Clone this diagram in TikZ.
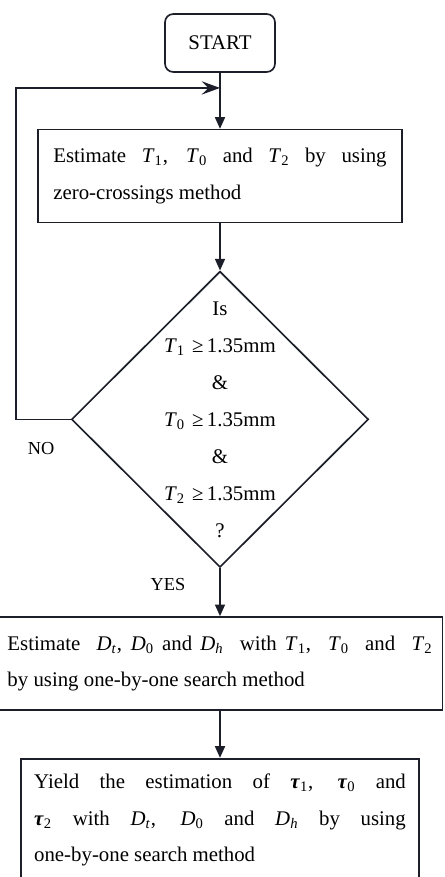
\documentclass[tikz,border=0pt]{standalone}
\usepackage{fontspec}
\setmainfont{Liberation Serif}
\usetikzlibrary{arrows.meta,positioning,calc,shapes.geometric}
\definecolor{ink}{RGB}{28,30,42}
\tikzset{
  term/.style={draw=ink,line width=1pt,rounded corners=5pt,minimum width=66pt,
    minimum height=34.8pt,font=\fontsize{12.5}{22}\selectfont},
  proc/.style={draw=ink,line width=1pt,inner ysep=0pt,align=justify,
    minimum height=55.8pt,font=\fontsize{12.5}{22}\selectfont},
  decide/.style={draw=ink,line width=1pt,diamond,inner sep=0pt,
    minimum width=178.2pt,minimum height=177.6pt},
  dtext/.style={text width=110pt,align=center,inner sep=0pt,
    font=\fontsize{12.5}{22.2}\selectfont},
  lbl/.style={inner sep=0pt,font=\fontsize{11}{13}\selectfont},
  flow/.style={-{Triangle[length=7pt,width=6pt]},line width=1pt,ink},
  loopback/.style={-{Stealth[length=11pt,width=8pt,inset=4pt]},line width=1pt,ink},
}
\newcommand{\vT}[1]{\textit{T}\textsubscript{#1}}
\newcommand{\vD}[1]{\textit{D}\textsubscript{#1}}
\newcommand{\vtau}[1]{\textbf{\textit{τ}}\textsubscript{#1}}

\begin{document}
\begin{tikzpicture}
\useasboundingbox (-132pt,25.8pt) rectangle (135pt,-500.4pt);
\clip (-132pt,25.8pt) rectangle (135pt,-500.4pt);
% main column
\node[term] (start) at (0,0) {START};
\node[proc,text width=200pt,inner xsep=9pt,below=33.6pt of start] (box1)
  {Estimate \vT{1}, \vT{0} and \vT{2} by using\linebreak zero-crossings method};
\node[decide,below=28.2pt of box1] (dec) {};
\node[dtext] (dectext) at (dec)
  {Is\\ \vT{1} ≥\,1.35mm\\ \&\\ \vT{0} ≥\,1.35mm\\ \&\\ \vT{2} ≥\,1.35mm\\ ?};
\node[proc,text width=255pt,inner xsep=6pt,below=28.8pt of dec] (box2)
  {Estimate \ \vD{\textit{t}}, \vD{0} and \vD{\textit{h}} \ with \vT{1}, \ \vT{0} \ and \ \vT{2}\linebreak
   by using one-by-one search method};
% bottom edge runs off the page
\node[proc,text width=223pt,inner xsep=8pt,inner ysep=9pt,minimum height=0pt,
  text depth=75pt,below=28.2pt of box2] (box3)
  {Yield the estimation of \vtau{1}, \vtau{0} and\linebreak
   \vtau{2} with \vD{\textit{t}}, \vD{0} and \vD{\textit{h}} by using\linebreak
   one-by-one search method};

% branch labels
\node[lbl] (no) at ([xshift=-17.7pt,yshift=-17.4pt]dec.west) {NO};
\node[lbl] (yes) at ([xshift=-31.2pt,yshift=-9.6pt]dec.south) {YES};

% edges
\coordinate (join) at ($(start.south)!0.27!(box1.north)$);
\draw[flow] (start) -- (box1);
\draw[flow] (box1) -- (dec);
\draw[flow] (dec) -- (box2);
\draw[flow] (box2) -- (box3);
\draw[loopback] (dec.west) -- ++(-32.7pt,0) |- (join);
\end{tikzpicture}
\end{document}
